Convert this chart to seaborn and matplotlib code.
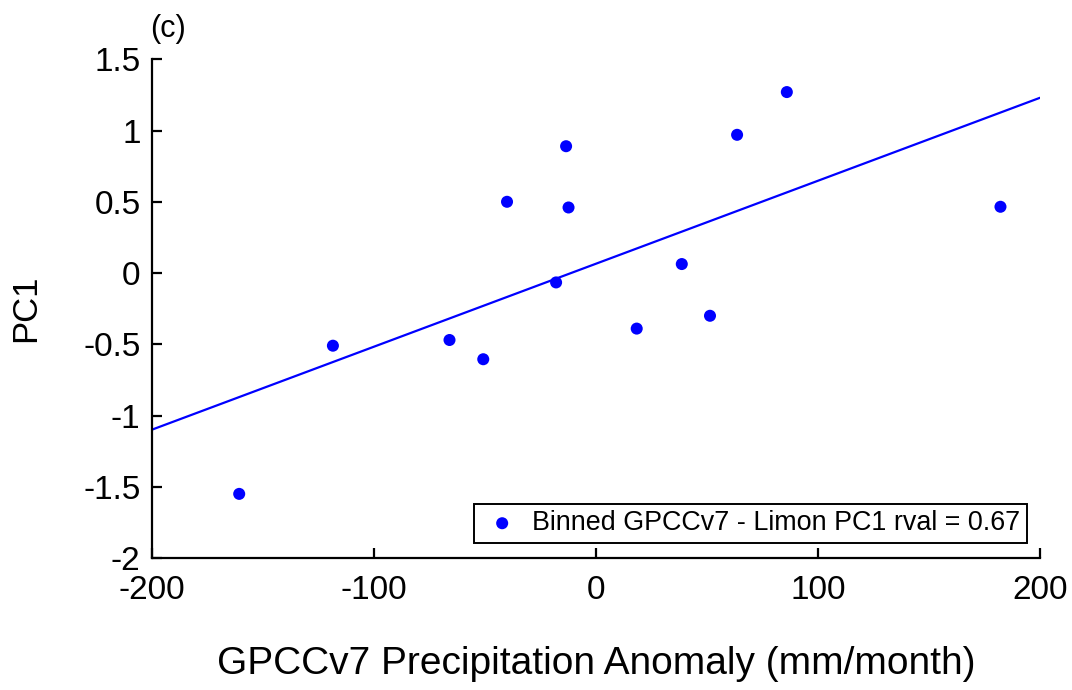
import matplotlib
matplotlib.use("Agg")
import matplotlib.pyplot as plt
import seaborn as sns
import pandas as pd

# Data
precip_anom = [-160.6, -118.4, -65.9, -50.7, -40.0, -17.9, -13.4, -12.3,
               18.4, 38.7, 51.4, 63.6, 86.0, 182.2]
pc1 = [-1.55, -0.51, -0.47, -0.605, 0.50, -0.066, 0.89, 0.46,
       -0.39, 0.063, -0.30, 0.97, 1.27, 0.465]
fit_x = [-200, 200]
fit_y = [-1.10, 1.23]
legend_label = "Binned GPCCv7 - Limon PC1 rval = 0.67"
x_ticks = [-200, -100, 0, 100, 200]
y_ticks = [-2, -1.5, -1, -0.5, 0, 0.5, 1, 1.5]

df = pd.DataFrame({"x": precip_anom, "y": pc1})
fit = pd.DataFrame({"x": fit_x, "y": fit_y})

sns.set_theme(style="ticks")
plt.rcParams["font.family"] = ["Liberation Sans", "DejaVu Sans"]
plt.rcParams["text.color"] = "black"
plt.rcParams["axes.labelcolor"] = "black"
plt.rcParams["xtick.color"] = "black"
plt.rcParams["ytick.color"] = "black"
plt.rcParams["xtick.direction"] = "in"
plt.rcParams["ytick.direction"] = "in"

fig = plt.figure(figsize=(10.72, 6.90), dpi=100)
ax = fig.add_axes([151.7 / 1072, 1 - 558 / 690, (1040 - 151.7) / 1072, (558 - 59.3) / 690])

sns.lineplot(data=fit, x="x", y="y", ax=ax, color="#0000ff", linewidth=1.6,
             legend=False)
sns.scatterplot(data=df, x="x", y="y", ax=ax, color="#0000ff", s=75,
                edgecolor="none", label=legend_label, zorder=3)

ax.set_xlim(-200, 200)
ax.set_ylim(-2, 1.5)
ax.set_xticks(x_ticks)
ax.set_xticklabels([f"{t:g}" for t in x_ticks])
ax.set_yticks(y_ticks)
ax.set_yticklabels([f"{t:g}" for t in y_ticks])

for s in ["top", "right"]:
    ax.spines[s].set_visible(False)
for s in ["left", "bottom"]:
    ax.spines[s].set_linewidth(1.6)
    ax.spines[s].set_color("black")

ax.tick_params(axis="both", which="both", direction="in", length=7, width=1.6,
               labelsize=24, colors="black", labelcolor="black")
ax.tick_params(axis="x", pad=12)
ax.tick_params(axis="y", pad=8)

ax.set_xlabel("GPCCv7 Precipitation Anomaly (mm/month)", fontsize=28, color="black")
ax.set_ylabel("PC1", fontsize=25, color="black")
ax.xaxis.set_label_coords(0.5, -0.176)
ax.yaxis.set_label_coords(-0.1235, 0.5)

leg = ax.legend(loc="lower right", bbox_to_anchor=(0.985, 0.03),
                borderaxespad=0, fontsize=19.4, frameon=True, fancybox=False,
                handletextpad=0.3, borderpad=0.25, handlelength=1.6,
                markerscale=1.0)
leg.get_frame().set_edgecolor("black")
leg.get_frame().set_linewidth(1.4)
leg.get_frame().set_alpha(1)
for t in leg.get_texts():
    t.set_color("black")

fig.text(150 / 1072, 1 - 14 / 690, "(c)", fontsize=22, ha="left", va="top",
         color="black")

fig.savefig("out.png", dpi=100)
